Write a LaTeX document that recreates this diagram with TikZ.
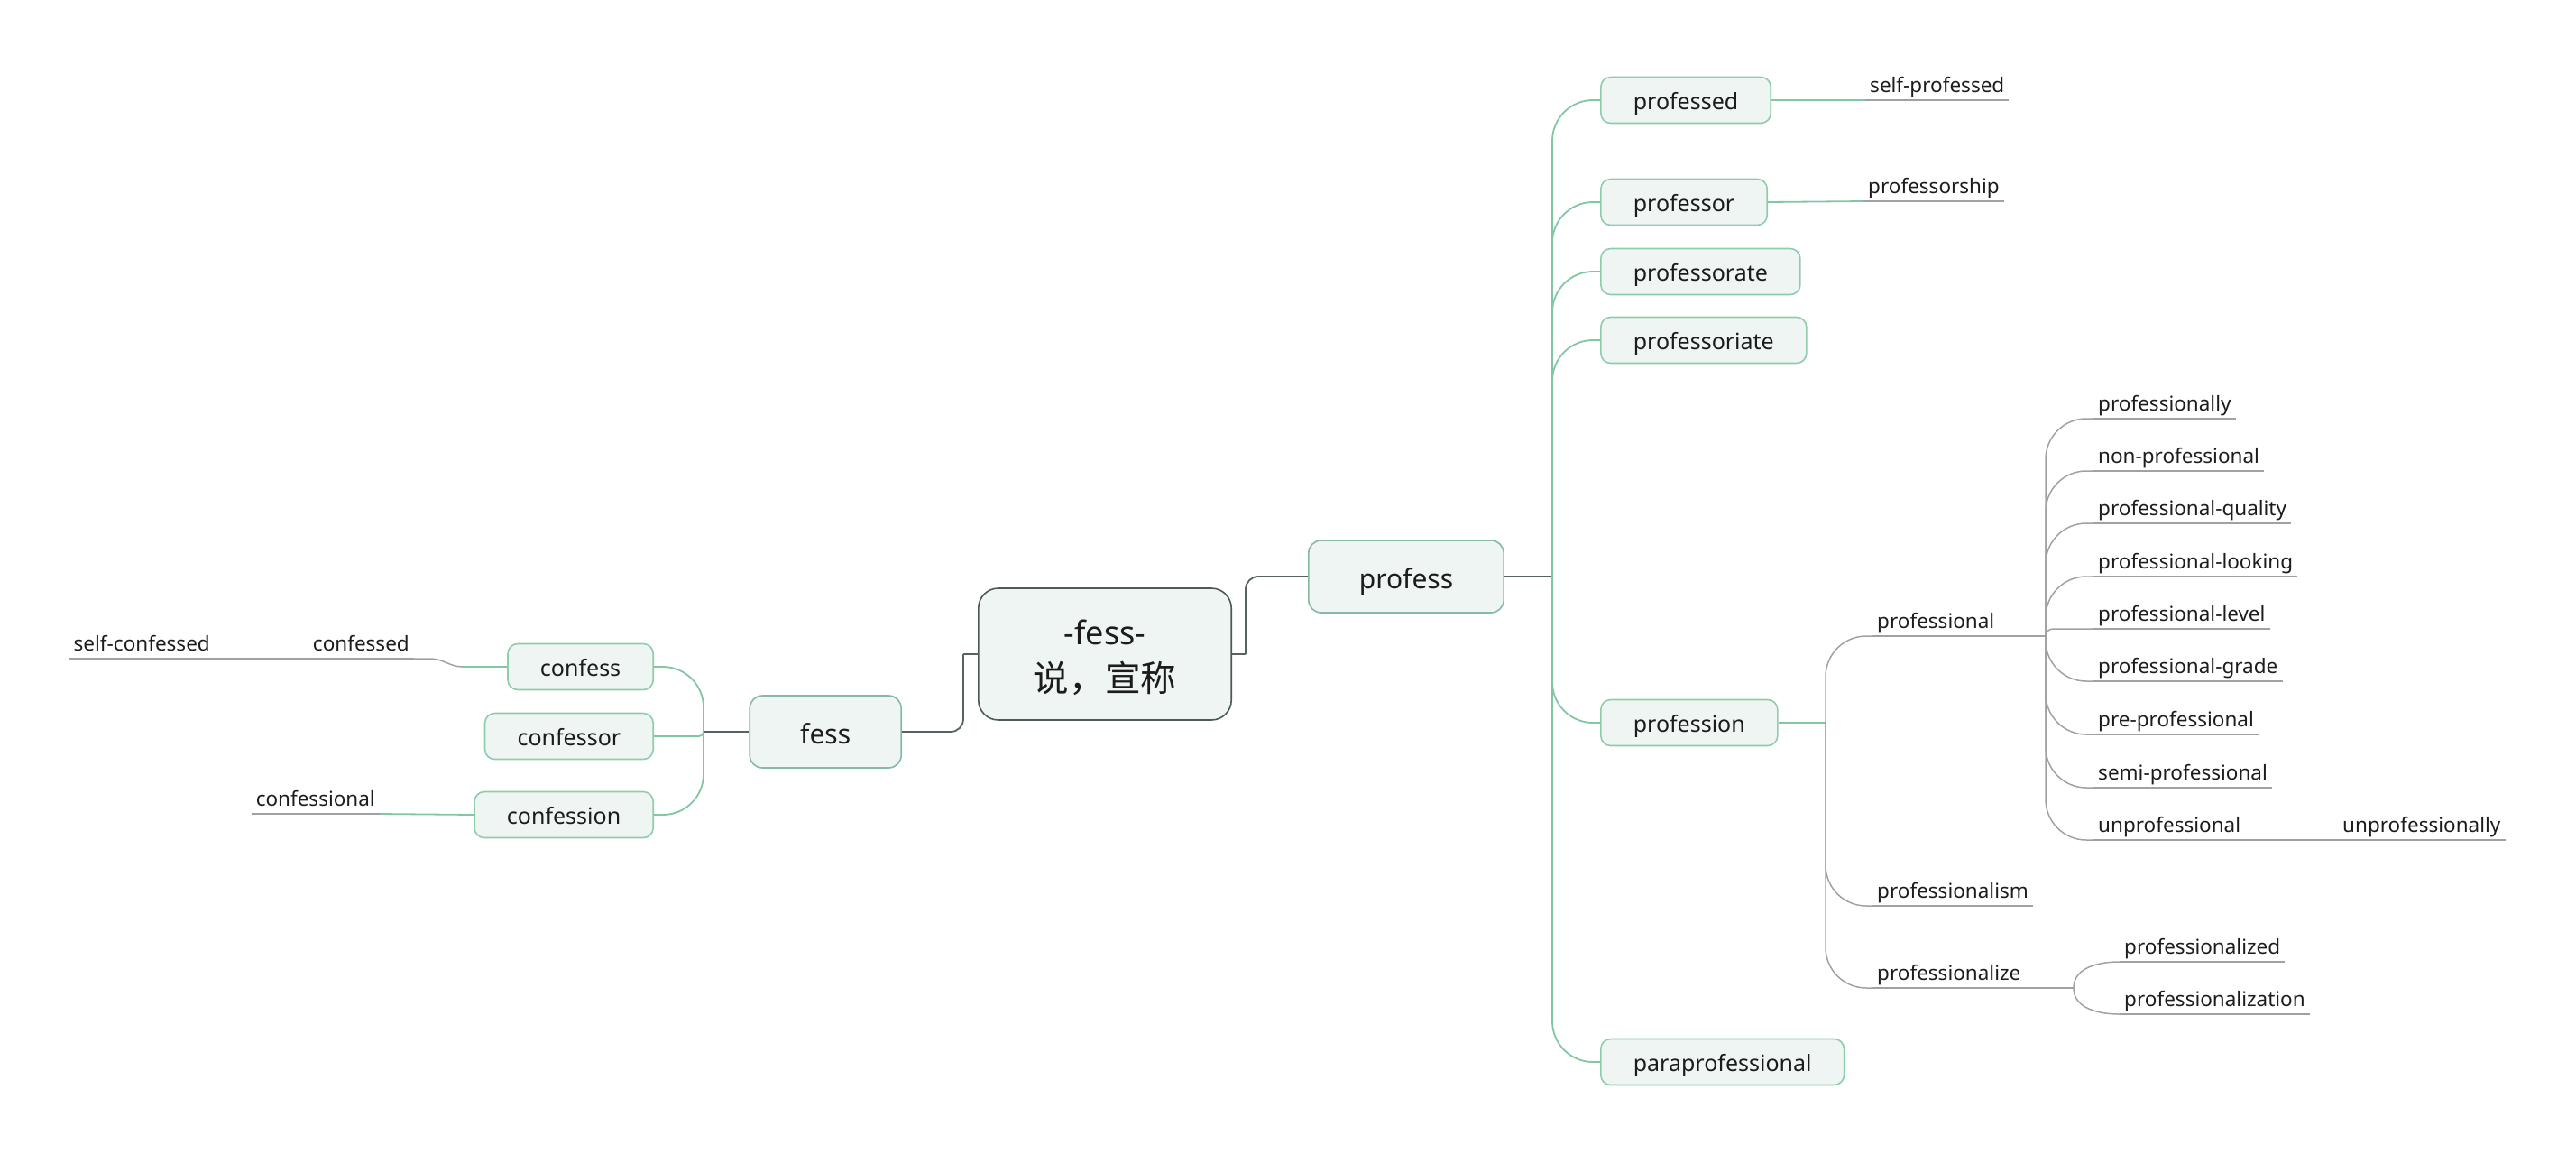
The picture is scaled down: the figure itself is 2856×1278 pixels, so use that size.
\documentclass[tikz,border=0pt]{standalone}
\usepackage{fontspec}
\setmainfont{Noto Sans}
\newfontfamily\cjk[Scale=1.1]{Noto Sans CJK SC}

\definecolor{boxfill}{HTML}{EFF5F2}
\definecolor{rootline}{HTML}{4E5A55}
\definecolor{mainline}{HTML}{86BBA2}
\definecolor{subline}{HTML}{8FCCAB}
\definecolor{cGreen}{HTML}{82C7A3}
\definecolor{cGray}{HTML}{9EA3A1}
\definecolor{cDark}{HTML}{56635E}
\definecolor{ink}{HTML}{1C1C1C}

\begin{document}
\begin{tikzpicture}[x=1pt,y=-1pt,
  every node/.style={text=ink},
  rootbox/.style={draw=rootline, fill=boxfill, rounded corners=22, line width=1.6,
    minimum height=146, inner xsep=61, align=center, font=\fontsize{36}{52}\selectfont},
  mainbox/.style={draw=mainline, fill=boxfill, rounded corners=14, line width=1.6,
    minimum height=80, inner xsep=56, text height=26pt, text depth=0pt,
    font=\fontsize{30}{36}\selectfont},
  subbox/.style={draw=subline, fill=boxfill, rounded corners=11, line width=1.6,
    minimum height=51, inner xsep=36, text height=21pt, text depth=0pt,
    font=\fontsize{25}{30}\selectfont},
  leaf/.style={inner xsep=5, inner ysep=2.5, text height=17pt, text depth=5.5pt,
    font=\fontsize{22.5}{27}\selectfont},
  uline/.style={draw=cGray, line width=1.5},
  darklink/.style={draw=cDark, line width=1.8},
  greenlink/.style={draw=cGreen, line width=1.8},
  graylink/.style={draw=cGray, line width=1.5}]

\useasboundingbox (0,0) rectangle (2856,1278);

% ---------- central topic and main branches ----------
\node[rootbox] (root) at (1225,725) {\rule{0pt}{35pt}-fess-\\{\cjk 说，宣称}};
\node[mainbox, anchor=west] (profess) at (1450,639) {profess};
\node[mainbox, anchor=east] (fess) at (1000,811) {fess};

\coordinate (rr) at (1381,725);
\coordinate (rl) at (1068,725);
\draw[darklink] (root.east) -- (rr);
\draw[darklink, rounded corners=14] (rr) |- (profess.west);
\draw[darklink] (root.west) -- (rl);
\draw[darklink, rounded corners=14] (rl) |- (fess.east);

% ---------- fess side ----------
\node[subbox, anchor=east] (confess)    at (725,739) {confess};
\node[subbox, anchor=east] (confessor)  at (725,816) {confessor};
\node[subbox, anchor=east] (confession) at (725,903) {confession};

\coordinate (fb) at (780,811);
\draw[darklink] (fess.west) -- (fb);
\draw[greenlink, rounded corners=45] (fb) |- (confess.east);
\draw[greenlink, rounded corners=5]  (fb) |- (confessor.east);
\draw[greenlink, rounded corners=45] (fb) |- (confession.east);

\node[leaf, anchor=south east] (confessed)     at (459,730) {confessed};
\node[leaf, anchor=south east] (selfconfessed) at (238,730) {self-confessed};
\node[leaf, anchor=south east] (confessional)  at (421,902) {confessional};

\draw[greenlink] (confess.west) -- (513,739);
\draw[graylink] (513,739) to[out=180,in=0] (477,730) -- (confessed.south east);
\draw[graylink] (confessed.south west) -- (selfconfessed.south east);
\draw[greenlink] (confession.west) -- (confessional.south east);

% ---------- profess side ----------
\node[subbox, anchor=west] (professed)        at (1774,111)  {professed};
\node[subbox, anchor=west] (professor)        at (1774,224)  {professor};
\node[subbox, anchor=west] (professorate)     at (1774,301)  {professorate};
\node[subbox, anchor=west] (professoriate)    at (1774,377)  {professoriate};
\node[subbox, anchor=west] (profession)       at (1774,801)  {profession};
\node[subbox, anchor=west] (paraprofessional) at (1774,1177) {paraprofessional};

\coordinate (pb) at (1721,639);
\draw[darklink] (profess.east) -- (pb);
\foreach \c in {professed,professor,professorate,professoriate,profession,paraprofessional}
  \draw[greenlink, rounded corners=45] (pb) |- (\c.west);

\node[leaf, anchor=south west] (selfprofessed) at (2068,111) {self-professed};
\node[leaf, anchor=south west] (professorship) at (2066,223) {professorship};
\draw[greenlink] (professed.east) -- (selfprofessed.south west);
\draw[greenlink] (professor.east) -- (professorship.south west);

% profession and its derivatives
\node[leaf, anchor=south west] (professional)    at (2076,705)  {professional};
\node[leaf, anchor=south west] (professionalism) at (2076,1004) {professionalism};
\node[leaf, anchor=south west] (professionalize) at (2076,1095) {professionalize};

\coordinate (nb) at (2024,801);
\draw[greenlink] (profession.east) -- (nb);
\foreach \c in {professional,professionalism,professionalize}
  \draw[graylink, rounded corners=45] (nb) |- (\c.south west);

% professional -> adjectives
\node[leaf, anchor=south west] (professionally) at (2321,464) {professionally};
\node[leaf, anchor=south west] (nonprof)        at (2321,522) {non-professional};
\node[leaf, anchor=south west] (profquality)    at (2321,580) {professional-quality};
\node[leaf, anchor=south west] (proflooking)    at (2321,639) {professional-looking};
\node[leaf, anchor=south west] (proflevel)      at (2321,697) {professional-level};
\node[leaf, anchor=south west] (profgrade)      at (2321,755) {professional-grade};
\node[leaf, anchor=south west] (preprof)        at (2321,814) {pre-professional};
\node[leaf, anchor=south west] (semiprof)       at (2321,873) {semi-professional};
\node[leaf, anchor=south west] (unprof)         at (2321,931) {unprofessional};
\node[leaf, anchor=south west] (unprofly)       at (2592,931) {unprofessionally};

\coordinate (lb) at (2268,705);
\draw[graylink] (professional.south east) -- (lb);
\foreach \c in {professionally,nonprof,profquality,proflooking,profgrade,preprof,semiprof,unprof}
  \draw[graylink, rounded corners=45] (lb) |- (\c.south west);
\draw[graylink, rounded corners=8] (lb) |- (proflevel.south west);
\draw[graylink] (unprof.south east) -- (unprofly.south west);

% professionalize -> forms
\node[leaf, anchor=south west] (profized)   at (2350,1066) {professionalized};
\node[leaf, anchor=south west] (profzation) at (2350,1124) {professionalization};
\coordinate (zb) at (2299,1095);
\draw[graylink] (professionalize.south east) -- (zb);
\draw[graylink] (zb) to[out=90,in=180] (profized.south west);
\draw[graylink] (zb) to[out=-90,in=180] (profzation.south west);

% underlines of the plain-text topics
\foreach \n in {confessed,selfconfessed,confessional,selfprofessed,professorship,
  professional,professionalism,professionalize,professionally,nonprof,profquality,
  proflooking,proflevel,profgrade,preprof,semiprof,unprof,unprofly,profized,profzation}
  \draw[uline] (\n.south west) -- (\n.south east);

\end{tikzpicture}
\end{document}
